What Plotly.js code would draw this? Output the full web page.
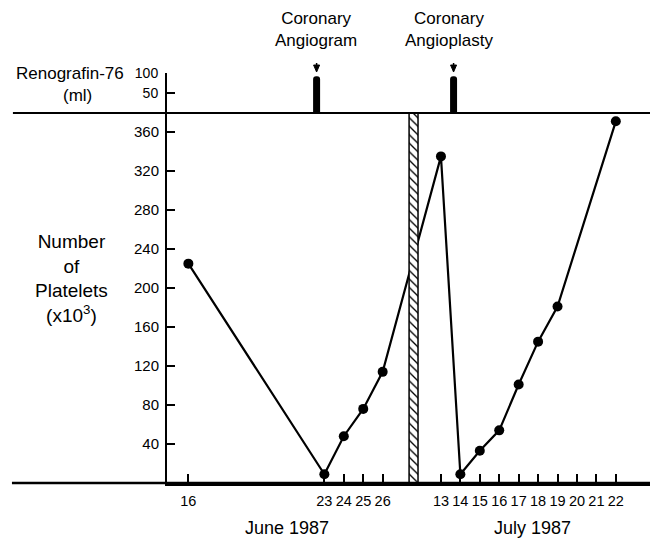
<!DOCTYPE html>
<html><head><meta charset="utf-8">
<script src="https://cdn.plot.ly/plotly-3.0.1.min.js"></script>
<style>html,body{margin:0;padding:0;background:#fff}#chart{width:650px;height:538px}</style>
</head><body><div id="chart"></div>
<script>
// ---- data ----
const juneDays = [16, 23, 24, 25, 26];
const junePlatelets = [225, 9, 48, 76, 114];
const julyDays = [13, 14, 15, 16, 17, 18, 19, 22];
const julyPlatelets = [335, 9, 33, 54, 101, 145, 181, 371];
const juneTickDays = [16, 23, 24, 25, 26];
const julyTickDays = [13, 14, 15, 16, 17, 18, 19, 20, 21, 22];
const plateletTicks = [40, 80, 120, 160, 200, 240, 280, 320, 360];
const renografinTicks = [50, 100];
const procedureNames = ['Coronary<br>Angiogram', 'Coronary<br>Angioplasty'];
const procedureMonths = ['June', 'July'];
const procedureDays = [22.6, 13.65];
const renografinMl = [92, 92];
const monthLabels = ['June 1987', 'July 1987'];

// ---- broken time axis: July days shifted to sit after the break ----
const JULY_SHIFT = 16;
const BREAK_X = [27.36, 27.82];
const pos = (m, d) => (m === 'July' ? d + JULY_SHIFT : d);

const X_RANGE = [14.9, 39.76];
const Y_MAX = 379.5;
const SPLIT = 0.9024;
const FONT = 'Liberation Sans, Arial, Helvetica, sans-serif';

const lineX = juneDays.map(d => pos('June', d)).concat(julyDays.map(d => pos('July', d)));
const lineY = junePlatelets.concat(julyPlatelets);
const procX = procedureDays.map((d, i) => pos(procedureMonths[i], d));

const traces = [
  {
    type: 'bar', x: procX, y: renografinMl, xaxis: 'x', yaxis: 'y2',
    width: 0.36, marker: {color: 'black', cornerradius: 3, line: {width: 0}},
    hoverinfo: 'skip', showlegend: false
  },
  {
    type: 'scatter', mode: 'lines+markers', x: lineX, y: lineY,
    line: {color: 'black', width: 2.2},
    marker: {color: 'black', size: 10},
    showlegend: false, cliponaxis: false
  },
  {
    type: 'scatter', mode: 'lines',
    x: [BREAK_X[0], BREAK_X[1], BREAK_X[1], BREAK_X[0], BREAK_X[0]],
    y: [0, 0, Y_MAX, Y_MAX, 0],
    fill: 'toself', fillcolor: 'white',
    fillpattern: {shape: '\\', fgcolor: 'black', bgcolor: 'white', size: 6, solidity: 0.22},
    line: {color: 'black', width: 1.5},
    hoverinfo: 'skip', showlegend: false
  }
];

const tickVals = juneTickDays.map(d => pos('June', d)).concat(julyTickDays.map(d => pos('July', d)));
const tickText = juneTickDays.concat(julyTickDays).map(String);

const annotations = [];
const shapes = [
  {type: 'line', xref: 'paper', yref: 'paper', x0: -0.319, x1: 1, y0: SPLIT, y1: SPLIT,
   line: {color: 'black', width: 2}},
  {type: 'line', xref: 'paper', yref: 'paper', x0: -0.321, x1: 1, y0: 0, y1: 0,
   line: {color: 'black', width: 2.5}}
];
procX.forEach((x, i) => {
  shapes.push({type: 'line', xref: 'x', yref: 'paper', x0: x, x1: x, y0: 1.0244, y1: 1.012,
               line: {color: 'black', width: 1.5}});
  shapes.push({type: 'path', xref: 'x', yref: 'paper', xsizemode: 'pixel', ysizemode: 'pixel',
               xanchor: x, yanchor: 1.0024, path: 'M-3,7 L3,7 L0,0 Z',
               fillcolor: 'black', line: {color: 'black', width: 1}});
  annotations.push({
    x: x, xref: 'x', y: 1.105, yref: 'paper', text: procedureNames[i], showarrow: false,
    xshift: i === 0 ? -1 : -5, yanchor: 'middle', xanchor: 'center',
    font: {family: FONT, size: 17, color: 'black'}
  });
});
annotations.push({
  x: -0.2008, xref: 'paper', y: 1.0, yref: 'paper', text: 'Renografin-76', showarrow: false,
  xanchor: 'center', yanchor: 'middle', font: {family: FONT, size: 17, color: 'black'}
});
annotations.push({
  x: -0.1863, xref: 'paper', y: 0.946, yref: 'paper', text: '(ml)', showarrow: false,
  xanchor: 'center', yanchor: 'middle', font: {family: FONT, size: 17, color: 'black'}
});
annotations.push({
  x: -0.1967, xref: 'paper', y: 0.5, yref: 'paper',
  text: 'Number<br>of<br>Platelets<br>(x10<sup>3</sup>)', showarrow: false,
  xanchor: 'center', yanchor: 'middle', align: 'center',
  font: {family: FONT, size: 19, color: 'black'}
});
const monthCenters = [21.08, 33.69];
monthLabels.forEach((t, i) => annotations.push({
  x: monthCenters[i], xref: 'x', y: -0.11, yref: 'paper', text: t, showarrow: false,
  xanchor: 'center', yanchor: 'middle', font: {family: FONT, size: 18, color: 'black'}
}));

const axisCommon = {
  showgrid: false, zeroline: false, showline: true, linecolor: 'black',
  ticks: 'inside', tickcolor: 'black', tickwidth: 2, fixedrange: true
};

const layout = {
  width: 650, height: 538,
  margin: {l: 167, r: 0, t: 73, b: 55, pad: 0},
  paper_bgcolor: 'white', plot_bgcolor: 'white',
  font: {family: FONT, color: 'black'},
  showlegend: false,
  xaxis: Object.assign({}, axisCommon, {
    range: X_RANGE, tickvals: tickVals, ticktext: tickText, ticklen: 9,
    linewidth: 2.5, tickfont: {size: 14.5}, ticklabelstandoff: 3, anchor: 'y'
  }),
  yaxis: Object.assign({}, axisCommon, {
    domain: [0, SPLIT], range: [0, Y_MAX], tickvals: plateletTicks, ticklen: 8,
    linewidth: 2, tickfont: {size: 15}, ticklabelstandoff: 3, anchor: 'x'
  }),
  yaxis2: Object.assign({}, axisCommon, {
    domain: [SPLIT, 1], range: [0, 100], tickvals: renografinTicks, ticklen: 8,
    linewidth: 2, tickfont: {size: 14}, ticklabelstandoff: 4, anchor: 'x'
  }),
  shapes: shapes,
  annotations: annotations
};

Plotly.newPlot('chart', traces, layout, {displayModeBar: false, staticPlot: true});
</script>
</body></html>
